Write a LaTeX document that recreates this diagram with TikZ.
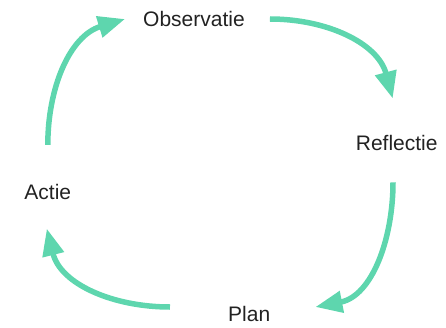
\documentclass[tikz,border=0pt]{standalone}
\usepackage{fontspec}
\setmainfont{Liberation Sans}
\usetikzlibrary{arrows.meta}
\definecolor{mint}{RGB}{94,214,174}
\definecolor{ink}{RGB}{34,34,34}
\begin{document}
\begin{tikzpicture}[x=1pt,y=1pt,
    every node/.style={inner sep=0pt,text=ink,font=\fontsize{21}{25}\selectfont},
    cyclearrow/.style={draw=mint,line width=5.5pt,-{Triangle[length=27pt,width=21pt]}}]
      \useasboundingbox (0,0) rectangle (446,327);
      \draw
        (194,308) node (obs){Observatie}
        (396.7,183.6) node (refl){Reflectie}
        (249.2,13) node (plan){Plan}
        (47.8,135.3) node (actie){Actie};
      \begin{scope}[cyclearrow]
        \draw ([yshift=39pt]actie.north) to[out=90,in=197] ([xshift=-18pt]obs.west);
        \draw ([xshift=25pt]obs.east) to[out=0,in=105] ([xshift=-4pt,yshift=37pt]refl.north);
        \draw ([xshift=-3.7pt,yshift=-31pt]refl.south) to[out=-90,in=11] ([xshift=45pt,yshift=7pt]plan.east);
        \draw ([xshift=-58pt,yshift=7pt]plan.west) to[out=180,in=-76] ([xshift=-1pt,yshift=-29pt]actie.south);
      \end{scope}
    \end{tikzpicture}
\end{document}
